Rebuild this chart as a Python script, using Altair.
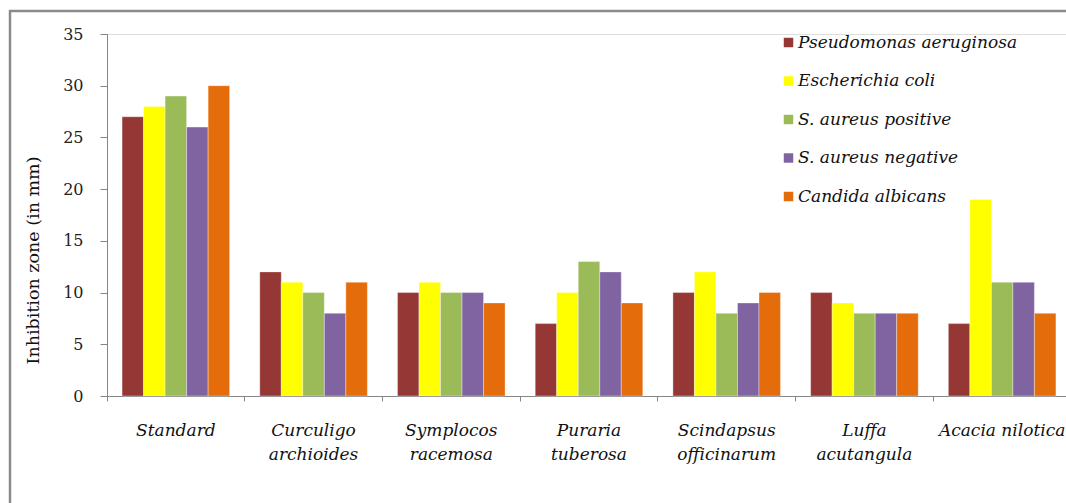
import altair as alt
import pandas as pd

categories = ["Standard", "Curculigo archioides", "Symplocos racemosa", "Puraria tuberosa",
              "Scindapsus officinarum", "Luffa acutangula", "Acacia nilotica"]
series = ["Pseudomonas aeruginosa", "Escherichia coli", "S. aureus positive",
          "S. aureus negative", "Candida albicans"]
pseudomonas = [27, 12, 10, 7, 10, 10, 7]
ecoli = [28, 11, 11, 10, 12, 9, 19]
saureus_pos = [29, 10, 10, 13, 8, 8, 11]
saureus_neg = [26, 8, 10, 12, 9, 8, 11]
candida = [30, 11, 9, 9, 10, 8, 8]
colors = ["#953735", "#FFFF00", "#9BBB59", "#8064A2", "#E46C0A"]
y_ticks = [0, 5, 10, 15, 20, 25, 30, 35]

values = [pseudomonas, ecoli, saureus_pos, saureus_neg, candida]
rows = []
for s, vals in zip(series, values):
    for c, v in zip(categories, vals):
        rows.append({"category": c, "series": s, "value": v})
df = pd.DataFrame(rows)

serif = "DejaVu Serif"
axis_gray = "#868686"

bars = alt.Chart(df).mark_bar(stroke="white", strokeWidth=0.6, strokeOpacity=0.6).encode(
    x=alt.X("category:N", sort=categories,
            scale=alt.Scale(range=[0, 964], paddingInner=0, paddingOuter=0),
            axis=alt.Axis(title=None, bandPosition=0,
                          labelExpr="datum.label == 'Acacia nilotica' ? datum.label : split(datum.label, ' ')",
                          labelAngle=0, labelFont=serif, labelFontStyle="italic",
                          labelFontSize=17, labelColor="#111111", labelLineHeight=24,
                          labelPadding=21, labelBaseline="top", labelLimit=0,
                          tickSize=5, tickColor=axis_gray, domainColor=axis_gray)),
    xOffset=alt.XOffset("series:N", sort=series,
                        scale=alt.Scale(paddingInner=0, paddingOuter=0.7)),
    y=alt.Y("value:Q", scale=alt.Scale(domain=[0, 35], nice=False),
            axis=alt.Axis(title="Inhibition zone (in mm)", values=y_ticks, grid=False,
                          labelFont=serif, labelFontSize=16, labelColor="#222222",
                          labelPadding=17, tickSize=7, tickColor=axis_gray,
                          domainColor=axis_gray,
                          titleFont=serif, titleFontSize=17.5, titleFontWeight="normal",
                          titleColor="#111111", titleX=-74, titleY=226,
                          titleBaseline="middle", titleAlign="center", titleAngle=-90)),
    color=alt.Color("series:N", sort=series,
                    scale=alt.Scale(domain=series, range=colors),
                    legend=alt.Legend(title=None, orient="none", legendX=673, legendY=0,
                                      symbolType="square", symbolSize=90,
                                      symbolStrokeWidth=0, labelFont=serif,
                                      labelFontStyle="italic", labelFontSize=17,
                                      labelColor="#111111", rowPadding=20.5,
                                      labelOffset=1, labelLimit=0)),
)

frame = alt.Chart(pd.DataFrame({"a": [0]})).mark_rect(
    fill="transparent", stroke="#8a8a8a", strokeWidth=2.5
).encode(
    x=alt.value(-97), x2=alt.value(2000), y=alt.value(-23), y2=alt.value(2000)
)

chart = alt.layer(frame, bars).properties(
    width=959, height=362,
    autosize="none",
    padding={"left": 107, "top": 34, "right": 0, "bottom": 107},
).configure_view(stroke=None).configure(background="white")

chart.save("out.html", embed_options={"renderer": "svg", "actions": False})
